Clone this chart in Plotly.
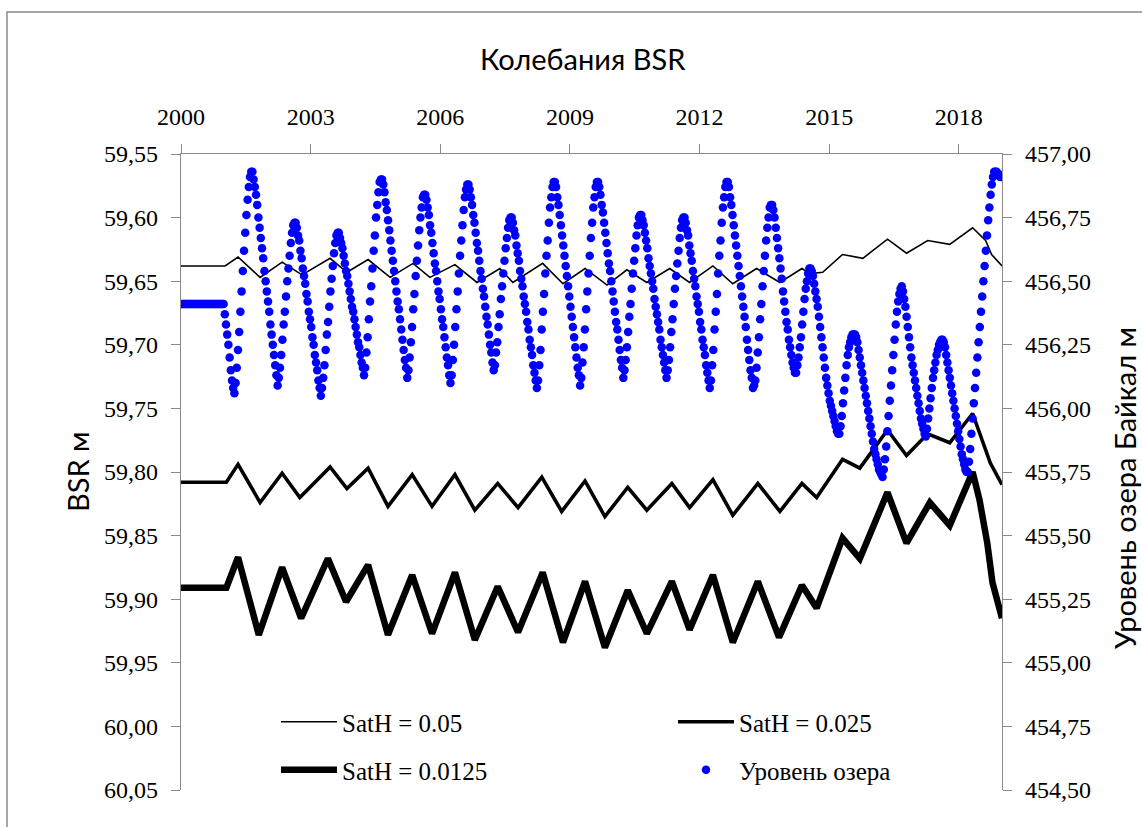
import plotly.graph_objects as go

# ---------------- data ----------------
tick_years = [2000, 2003, 2006, 2009, 2012, 2015, 2018]
bsr_ticks = [59.55, 59.60, 59.65, 59.70, 59.75, 59.80, 59.85, 59.90, 59.95, 60.00, 60.05]
lake_ticks = [454.50, 454.75, 455.00, 455.25, 455.50, 455.75, 456.00, 456.25, 456.50, 456.75, 457.00]

# BSR, SatH = 0.05 (key points)
thin_x = [2000.0, 2001.02, 2001.32, 2001.83, 2002.34, 2002.80, 2003.45, 2003.84, 2004.33, 2004.84,
          2005.37, 2005.76, 2006.34, 2006.85, 2007.38, 2007.68, 2008.37, 2008.84, 2009.35, 2009.86,
          2010.32, 2010.78, 2011.31, 2011.77, 2012.31, 2012.77, 2013.32, 2013.86, 2014.37, 2014.55,
          2014.85, 2015.31, 2015.78, 2016.35, 2016.79, 2017.28, 2017.79, 2018.32, 2018.62, 2018.76, 2019.0]
thin_y = [59.638, 59.638, 59.631, 59.647, 59.635, 59.645, 59.632, 59.643, 59.633, 59.647,
          59.636, 59.647, 59.637, 59.651, 59.640, 59.651, 59.636, 59.652, 59.640, 59.653,
          59.641, 59.651, 59.640, 59.651, 59.638, 59.652, 59.640, 59.651, 59.640, 59.644,
          59.643, 59.629, 59.632, 59.617, 59.628, 59.618, 59.621, 59.608, 59.618, 59.629, 59.638]

# BSR, SatH = 0.025
mid_x = [2000.0, 2001.05, 2001.32, 2001.83, 2002.34, 2002.75, 2003.45, 2003.84, 2004.33, 2004.79,
         2005.35, 2005.81, 2006.34, 2006.80, 2007.33, 2007.80, 2008.35, 2008.81, 2009.35, 2009.81,
         2010.34, 2010.78, 2011.36, 2011.77, 2012.31, 2012.77, 2013.35, 2013.86, 2014.37, 2014.71,
         2015.31, 2015.71, 2016.35, 2016.79, 2017.28, 2017.79, 2018.32, 2018.5, 2018.73, 2019.0]
mid_y = [59.808, 59.808, 59.794, 59.824, 59.801, 59.820, 59.796, 59.813, 59.797, 59.827,
         59.802, 59.827, 59.802, 59.830, 59.809, 59.828, 59.804, 59.831, 59.807, 59.835,
         59.812, 59.830, 59.809, 59.828, 59.806, 59.834, 59.809, 59.831, 59.809, 59.820,
         59.790, 59.797, 59.767, 59.787, 59.770, 59.777, 59.754, 59.772, 59.793, 59.810]

# BSR, SatH = 0.0125
thk_x = [2000.0, 2001.05, 2001.32, 2001.80, 2002.34, 2002.78, 2003.40, 2003.82, 2004.33, 2004.79,
         2005.35, 2005.81, 2006.34, 2006.80, 2007.33, 2007.80, 2008.37, 2008.84, 2009.35, 2009.81,
         2010.34, 2010.78, 2011.36, 2011.77, 2012.31, 2012.77, 2013.35, 2013.84, 2014.37, 2014.71,
         2015.31, 2015.71, 2016.35, 2016.79, 2017.33, 2017.79, 2018.32, 2018.48, 2018.66, 2018.78, 2019.0]
thk_y = [59.891, 59.891, 59.867, 59.928, 59.875, 59.915, 59.868, 59.902, 59.873, 59.928,
         59.881, 59.927, 59.879, 59.932, 59.890, 59.926, 59.879, 59.934, 59.886, 59.938,
         59.893, 59.927, 59.886, 59.924, 59.881, 59.934, 59.886, 59.930, 59.889, 59.907,
         59.852, 59.868, 59.816, 59.856, 59.824, 59.842, 59.800, 59.822, 59.856, 59.887, 59.915]

# Lake Baikal level, one value per dekad (36 per year)
lvl_2000 = [456.41, 456.41, 456.41, 456.41, 456.41, 456.41, 456.41, 456.41, 456.41, 456.41, 456.41, 456.41,
            456.41, 456.41, 456.41, 456.41, 456.41, 456.41, 456.41, 456.41, 456.41, 456.41, 456.41, 456.41,
            456.41, 456.41, 456.41, 456.41, 456.41, 456.41, 456.41, 456.41, 456.41, 456.41, 456.41, 456.41]
lvl_2001 = [456.37, 456.33, 456.29, 456.25, 456.20, 456.15, 456.11, 456.08, 456.06, 456.10, 456.16, 456.23,
            456.30, 456.38, 456.46, 456.54, 456.62, 456.69, 456.76, 456.82, 456.87, 456.91, 456.93, 456.93,
            456.90, 456.87, 456.84, 456.80, 456.75, 456.71, 456.67, 456.63, 456.59, 456.54, 456.50, 456.46]
lvl_2002 = [456.42, 456.38, 456.33, 456.29, 456.25, 456.21, 456.17, 456.13, 456.09, 456.12, 456.16, 456.21,
            456.27, 456.33, 456.38, 456.44, 456.50, 456.55, 456.60, 456.65, 456.69, 456.72, 456.73, 456.73,
            456.71, 456.68, 456.66, 456.62, 456.59, 456.55, 456.52, 456.49, 456.45, 456.42, 456.38, 456.35]
lvl_2003 = [456.32, 456.28, 456.25, 456.21, 456.18, 456.15, 456.11, 456.08, 456.05, 456.08, 456.12, 456.17,
            456.23, 456.29, 456.34, 456.40, 456.46, 456.51, 456.56, 456.61, 456.65, 456.68, 456.69, 456.69,
            456.67, 456.65, 456.63, 456.60, 456.57, 456.54, 456.52, 456.49, 456.46, 456.43, 456.40, 456.38]
lvl_2004 = [456.35, 456.32, 456.29, 456.26, 456.24, 456.21, 456.18, 456.16, 456.13, 456.16, 456.22, 456.28,
            456.35, 456.42, 456.48, 456.55, 456.62, 456.68, 456.75, 456.80, 456.85, 456.89, 456.90, 456.90,
            456.88, 456.85, 456.81, 456.78, 456.74, 456.70, 456.66, 456.62, 456.58, 456.54, 456.50, 456.46]
lvl_2005 = [456.42, 456.39, 456.35, 456.31, 456.27, 456.23, 456.19, 456.16, 456.12, 456.15, 456.20, 456.26,
            456.32, 456.39, 456.45, 456.52, 456.58, 456.64, 456.70, 456.75, 456.79, 456.83, 456.84, 456.84,
            456.82, 456.79, 456.76, 456.72, 456.69, 456.65, 456.61, 456.57, 456.54, 456.50, 456.46, 456.43]
lvl_2006 = [456.39, 456.35, 456.32, 456.28, 456.24, 456.20, 456.17, 456.13, 456.10, 456.13, 456.19, 456.25,
            456.32, 456.39, 456.46, 456.53, 456.60, 456.66, 456.72, 456.78, 456.83, 456.86, 456.88, 456.88,
            456.86, 456.83, 456.80, 456.76, 456.73, 456.69, 456.65, 456.62, 456.58, 456.54, 456.51, 456.47]
lvl_2007 = [456.44, 456.40, 456.36, 456.33, 456.29, 456.25, 456.22, 456.18, 456.15, 456.17, 456.22, 456.26,
            456.32, 456.37, 456.43, 456.48, 456.53, 456.58, 456.63, 456.67, 456.71, 456.74, 456.75, 456.75,
            456.73, 456.70, 456.68, 456.64, 456.61, 456.58, 456.54, 456.51, 456.48, 456.44, 456.41, 456.38]
lvl_2008 = [456.34, 456.31, 456.27, 456.24, 456.21, 456.17, 456.14, 456.11, 456.08, 456.11, 456.17, 456.23,
            456.31, 456.38, 456.45, 456.53, 456.60, 456.66, 456.73, 456.79, 456.83, 456.87, 456.89, 456.89,
            456.87, 456.83, 456.80, 456.76, 456.72, 456.68, 456.64, 456.60, 456.56, 456.52, 456.48, 456.44]
lvl_2009 = [456.40, 456.36, 456.32, 456.28, 456.24, 456.20, 456.16, 456.13, 456.09, 456.12, 456.18, 456.24,
            456.31, 456.39, 456.46, 456.53, 456.60, 456.67, 456.73, 456.79, 456.83, 456.87, 456.89, 456.89,
            456.87, 456.84, 456.80, 456.77, 456.73, 456.69, 456.65, 456.61, 456.57, 456.54, 456.50, 456.46]
lvl_2010 = [456.42, 456.38, 456.34, 456.31, 456.27, 456.23, 456.19, 456.16, 456.12, 456.15, 456.19, 456.24,
            456.30, 456.36, 456.41, 456.47, 456.53, 456.58, 456.63, 456.68, 456.72, 456.75, 456.76, 456.76,
            456.74, 456.72, 456.69, 456.66, 456.63, 456.59, 456.56, 456.53, 456.50, 456.47, 456.43, 456.40]
lvl_2011 = [456.37, 456.34, 456.31, 456.27, 456.24, 456.21, 456.18, 456.15, 456.12, 456.15, 456.19, 456.24,
            456.30, 456.35, 456.41, 456.47, 456.52, 456.57, 456.62, 456.67, 456.71, 456.74, 456.75, 456.75,
            456.73, 456.70, 456.68, 456.64, 456.61, 456.58, 456.54, 456.51, 456.48, 456.44, 456.41, 456.38]
lvl_2012 = [456.34, 456.31, 456.27, 456.24, 456.21, 456.17, 456.14, 456.11, 456.08, 456.11, 456.17, 456.23,
            456.31, 456.38, 456.45, 456.53, 456.60, 456.66, 456.73, 456.79, 456.83, 456.87, 456.89, 456.89,
            456.87, 456.83, 456.80, 456.76, 456.72, 456.68, 456.64, 456.60, 456.56, 456.52, 456.48, 456.44]
lvl_2013 = [456.40, 456.36, 456.32, 456.27, 456.23, 456.19, 456.15, 456.12, 456.08, 456.09, 456.11, 456.16,
            456.22, 456.28, 456.35, 456.41, 456.48, 456.54, 456.60, 456.66, 456.71, 456.75, 456.79, 456.80,
            456.80, 456.78, 456.75, 456.71, 456.67, 456.63, 456.59, 456.55, 456.51, 456.46, 456.42, 456.38]
lvl_2014 = [456.34, 456.31, 456.27, 456.24, 456.21, 456.18, 456.16, 456.14, 456.14, 456.17, 456.20, 456.24,
            456.28, 456.33, 456.38, 456.43, 456.47, 456.50, 456.53, 456.55, 456.55, 456.54, 456.52, 456.49,
            456.46, 456.43, 456.40, 456.36, 456.32, 456.28, 456.24, 456.20, 456.16, 456.12, 456.09, 456.06]
lvl_2015 = [456.03, 456.01, 455.99, 455.97, 455.95, 455.93, 455.91, 455.90, 455.90, 455.93, 455.97, 456.02,
            456.07, 456.12, 456.17, 456.21, 456.24, 456.26, 456.28, 456.29, 456.29, 456.29, 456.28, 456.26,
            456.23, 456.20, 456.17, 456.14, 456.11, 456.08, 456.05, 456.02, 455.99, 455.96, 455.93, 455.90]
lvl_2016 = [455.87, 455.84, 455.82, 455.80, 455.78, 455.76, 455.75, 455.74, 455.73, 455.76, 455.80, 455.85,
            455.91, 455.97, 456.03, 456.09, 456.15, 456.21, 456.27, 456.33, 456.38, 456.42, 456.45, 456.47,
            456.48, 456.46, 456.43, 456.40, 456.36, 456.32, 456.28, 456.24, 456.20, 456.17, 456.14, 456.11]
lvl_2017 = [456.08, 456.05, 456.02, 455.99, 455.96, 455.94, 455.92, 455.90, 455.89, 455.92, 455.96, 456.00,
            456.04, 456.08, 456.12, 456.15, 456.18, 456.21, 456.23, 456.25, 456.26, 456.27, 456.27, 456.26,
            456.24, 456.21, 456.18, 456.15, 456.12, 456.09, 456.06, 456.03, 456.00, 455.97, 455.94, 455.91]
lvl_2018 = [455.88, 455.85, 455.82, 455.80, 455.78, 455.76, 455.75, 455.75, 455.79, 455.84, 455.90, 455.96,
            456.02, 456.08, 456.14, 456.20, 456.26, 456.32, 456.38, 456.44, 456.50, 456.56, 456.62, 456.68,
            456.74, 456.79, 456.84, 456.88, 456.91, 456.93, 456.93, 456.93, 456.92, 456.92, 456.91, 456.91]

lake_years = [2000, 2001, 2002, 2003, 2004, 2005, 2006, 2007, 2008, 2009,
              2010, 2011, 2012, 2013, 2014, 2015, 2016, 2017, 2018]
lake_by_year = [lvl_2000, lvl_2001, lvl_2002, lvl_2003, lvl_2004, lvl_2005, lvl_2006, lvl_2007,
                lvl_2008, lvl_2009, lvl_2010, lvl_2011, lvl_2012, lvl_2013, lvl_2014, lvl_2015,
                lvl_2016, lvl_2017, lvl_2018]

lake_x, lake_y = [], []
for yr, vals in zip(lake_years, lake_by_year):
    n = len(vals)
    for k, v in enumerate(vals):
        lake_x.append(yr + (k + 0.5) / n)
        lake_y.append(v)

# ---------------- figure ----------------
W, H = 1142, 827
ML, MR, MT, MB = 181, 140, 154, 37
PW, PH = W - ML - MR, H - MT - MB


def px(x):
    return (x - ML) / PW


def py(y):
    return (H - MB - y) / PH


AX = '#898989'
SERIF = 'Liberation Serif, Times New Roman, serif'
SANS = 'Lato, Open Sans, sans-serif'

fig = go.Figure()
fig.add_trace(go.Scatter(x=thin_x, y=thin_y, mode='lines', name='SatH = 0.05',
                         line=dict(color='black', width=1.6), yaxis='y', legend='legend'))
fig.add_trace(go.Scatter(x=mid_x, y=mid_y, mode='lines', name='SatH = 0.025',
                         line=dict(color='black', width=3.6), yaxis='y', legend='legend'))
fig.add_trace(go.Scatter(x=thk_x, y=thk_y, mode='lines', name='SatH = 0.0125',
                         line=dict(color='black', width=6.5), yaxis='y', legend='legend2'))
fig.add_trace(go.Scatter(x=lake_x, y=lake_y, mode='markers', name='Уровень озера',
                         marker=dict(color='#0000ff', size=8.5, line=dict(width=0)),
                         yaxis='y2', legend='legend2'))

axis_common = dict(showgrid=False, zeroline=False, showline=True, linecolor=AX, linewidth=1.3,
                   ticks='outside', ticklen=9, tickcolor=AX, tickwidth=1.3,
                   tickfont=dict(family=SERIF, size=24, color='black'))

legend_common = dict(orientation='h', xanchor='left', yanchor='middle',
                     bgcolor='rgba(0,0,0,0)', borderwidth=0,
                     font=dict(family=SERIF, size=25, color='black'),
                     entrywidth=326, itemwidth=56, itemsizing='trace')

fig.update_layout(
    width=W, height=H,
    margin=dict(l=ML, r=MR, t=MT, b=MB, pad=0),
    paper_bgcolor='white', plot_bgcolor='white',
    separators=', ',
    showlegend=True,
    xaxis=dict(range=[2000, 2019], tickvals=tick_years, side='top', ticklabelstandoff=9,
               **axis_common),
    yaxis=dict(range=[60.05, 59.55], tickvals=bsr_ticks, tickformat='.2f', ticklabelstandoff=8,
               **axis_common),
    yaxis2=dict(range=[454.5, 457.0], tickvals=lake_ticks, tickformat='.2f', overlaying='y',
                side='right', ticklabelstandoff=8, **axis_common),
    legend=dict(x=px(276), y=py(722), **legend_common),
    legend2=dict(x=px(276), y=py(770), **legend_common),
    annotations=[
        dict(text='Колебания BSR', xref='paper', yref='paper', x=px(583), y=py(59),
             showarrow=False, font=dict(family=SANS, size=29, color='black'),
             xanchor='center', yanchor='middle'),
        dict(text='BSR м', xref='paper', yref='paper', x=px(77), y=py(472), textangle=-90,
             showarrow=False, font=dict(family=SANS, size=29, color='black'),
             xanchor='center', yanchor='middle'),
        dict(text='Уровень озера Байкал м', xref='paper', yref='paper', x=px(1124), y=py(488),
             textangle=-90, showarrow=False, font=dict(family=SANS, size=29, color='black'),
             xanchor='center', yanchor='middle'),
    ],
    shapes=[dict(type='rect', xref='paper', yref='paper', x0=px(7), x1=px(1160), y0=py(845),
                 y1=py(12), line=dict(color=AX, width=1.5), fillcolor='rgba(0,0,0,0)', layer='below')],
)

fig.write_html('out.html')
